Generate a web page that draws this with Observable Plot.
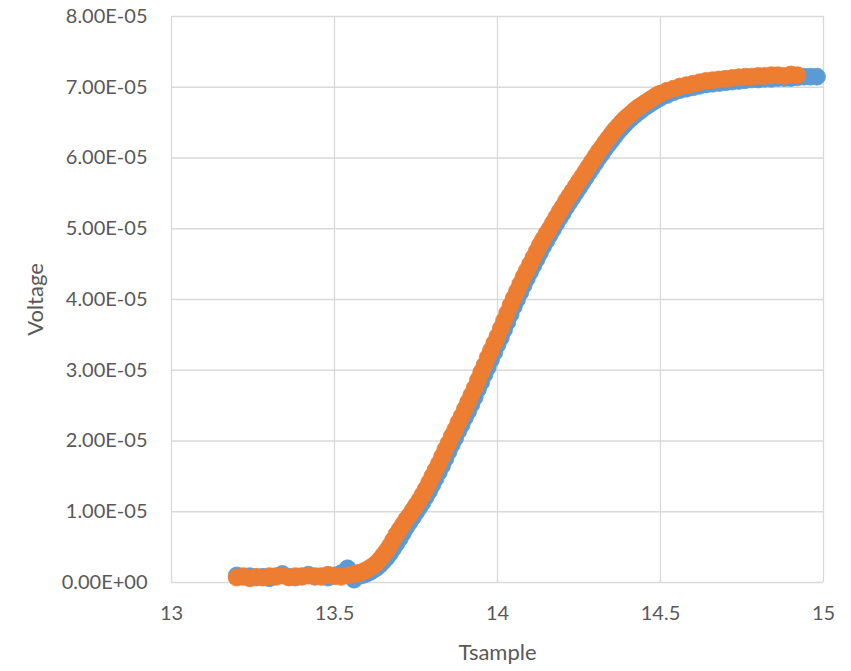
<!DOCTYPE html>
<html>
<head>
<meta charset="utf-8">
<script src="https://cdn.jsdelivr.net/npm/d3@7"></script>
<script src="https://cdn.jsdelivr.net/npm/@observablehq/plot@0.6"></script>
<style>
  html, body { margin: 0; padding: 0; background: #fff; }
  #chart svg { display: block; }
</style>
</head>
<body>
<div id="chart"></div>
<script>
// Tick values
const xTicks = [13, 13.5, 14, 14.5, 15];
const yTicks = [0, 1e-5, 2e-5, 3e-5, 4e-5, 5e-5, 6e-5, 7e-5, 8e-5];

// Series 1 (blue): Tsample and Voltage (Voltage in units of 1e-5)
const blueT = [13.20,13.22,13.24,13.26,13.28,13.30,13.32,13.34,13.36,13.38,13.40,13.42,13.44,13.46,13.48,13.50,13.52,13.54,
  13.56,13.57,13.58,13.59,13.60,13.61,13.62,13.63,13.64,13.65,13.66,13.67,13.68,13.69,13.70,13.71,13.72,13.73,13.74,13.75,
  13.76,13.77,13.78,13.79,13.80,13.81,13.82,13.83,13.84,13.85,13.86,13.87,13.88,13.89,13.90,13.91,13.92,13.93,13.94,13.95,
  13.96,13.97,13.98,13.99,14.00,14.01,14.02,14.03,14.04,14.05,14.06,14.07,14.08,14.09,14.10,14.11,14.12,14.13,14.14,14.15,
  14.16,14.17,14.18,14.19,14.20,14.21,14.22,14.23,14.24,14.25,14.26,14.27,14.28,14.29,14.30,14.31,14.32,14.33,14.34,14.35,
  14.36,14.37,14.38,14.39,14.40,14.41,14.42,14.43,14.44,14.45,14.46,14.47,14.48,14.49,14.50,
  14.52,14.54,14.56,14.58,14.60,14.62,14.64,14.66,14.68,14.70,14.72,14.74,14.76,14.78,14.80,14.82,14.84,14.86,14.88,14.90,
  14.92,14.94,14.96,14.98];
const blueV = [0.10,0.08,0.09,0.07,0.08,0.06,0.09,0.12,0.08,0.07,0.09,0.11,0.08,0.09,0.07,0.10,0.13,0.20,
  0.04,0.09,0.10,0.11,0.13,0.15,0.18,0.21,0.25,0.30,0.35,0.41,0.48,0.55,0.62,0.70,0.78,0.85,0.92,0.99,
  1.06,1.13,1.21,1.29,1.38,1.47,1.56,1.65,1.75,1.85,1.95,2.04,2.14,2.23,2.33,2.42,2.52,2.62,2.73,2.83,
  2.94,3.04,3.15,3.25,3.36,3.46,3.57,3.68,3.79,3.90,4.00,4.10,4.20,4.30,4.39,4.48,4.57,4.66,4.75,4.83,
  4.91,4.99,5.07,5.15,5.22,5.30,5.37,5.44,5.51,5.58,5.65,5.72,5.79,5.86,5.93,6.00,6.06,6.13,6.19,6.25,
  6.31,6.37,6.42,6.47,6.52,6.56,6.60,6.64,6.67,6.71,6.74,6.77,6.80,6.83,6.85,
  6.89,6.93,6.96,6.98,7.00,7.02,7.04,7.05,7.06,7.07,7.08,7.09,7.10,7.11,7.11,7.12,7.12,7.13,7.13,7.13,
  7.14,7.15,7.15,7.15];

// Series 2 (orange)
const orangeT = [13.20,13.22,13.24,13.26,13.28,13.30,13.32,13.34,13.36,13.38,13.40,13.42,13.44,13.46,13.48,13.50,13.52,13.54,
  13.56,13.57,13.58,13.59,13.60,13.61,13.62,13.63,13.64,13.65,13.66,13.67,13.68,13.69,13.70,13.71,13.72,13.73,13.74,13.75,
  13.76,13.77,13.78,13.79,13.80,13.81,13.82,13.83,13.84,13.85,13.86,13.87,13.88,13.89,13.90,13.91,13.92,13.93,13.94,13.95,
  13.96,13.97,13.98,13.99,14.00,14.01,14.02,14.03,14.04,14.05,14.06,14.07,14.08,14.09,14.10,14.11,14.12,14.13,14.14,14.15,
  14.16,14.17,14.18,14.19,14.20,14.21,14.22,14.23,14.24,14.25,14.26,14.27,14.28,14.29,14.30,14.31,14.32,14.33,14.34,14.35,
  14.36,14.37,14.38,14.39,14.40,14.41,14.42,14.43,14.44,14.45,14.46,14.47,14.48,14.49,14.50,
  14.52,14.54,14.56,14.58,14.60,14.62,14.64,14.66,14.68,14.70,14.72,14.74,14.76,14.78,14.80,14.82,14.84,14.86,14.88,14.90,
  14.92];
const orangeV = [0.07,0.09,0.06,0.08,0.07,0.09,0.08,0.10,0.07,0.09,0.08,0.10,0.09,0.08,0.11,0.09,0.08,0.10,
  0.12,0.13,0.14,0.16,0.18,0.21,0.24,0.28,0.33,0.39,0.45,0.52,0.60,0.68,0.75,0.82,0.89,0.95,1.02,1.09,
  1.16,1.24,1.32,1.41,1.50,1.59,1.68,1.78,1.88,1.97,2.07,2.16,2.26,2.35,2.45,2.55,2.65,2.75,2.86,2.97,
  3.07,3.18,3.28,3.38,3.48,3.59,3.70,3.81,3.92,4.02,4.12,4.22,4.32,4.41,4.50,4.59,4.68,4.77,4.85,4.93,
  5.00,5.08,5.16,5.24,5.31,5.39,5.46,5.53,5.60,5.67,5.74,5.81,5.88,5.95,6.02,6.09,6.15,6.22,6.28,6.34,
  6.40,6.45,6.50,6.55,6.59,6.63,6.67,6.71,6.74,6.77,6.80,6.83,6.86,6.89,6.91,
  6.95,6.98,7.01,7.03,7.05,7.07,7.09,7.10,7.11,7.12,7.13,7.14,7.15,7.15,7.16,7.16,7.17,7.17,7.16,7.18,
  7.17];

const unit = 1e-5;
const blue = blueT.map((t, i) => ({t, v: blueV[i] * unit}));
const orange = orangeT.map((t, i) => ({t, v: orangeV[i] * unit}));

function sciFmt(d) {
  if (d === 0) return "0.00E+00";
  const [m, e] = d.toExponential(2).split("e");
  const n = +e;
  return m + "E" + (n < 0 ? "-" : "+") + String(Math.abs(n)).padStart(2, "0");
}

const chart = Plot.plot({
  width: 851,
  height: 671,
  marginLeft: 171,
  marginRight: 28,
  marginTop: 16,
  marginBottom: 89,
  style: {fontFamily: "Lato, 'Open Sans', sans-serif", fontSize: "20px", color: "#595959", background: "#fff"},
  x: {domain: [13, 15]},
  y: {domain: [0, 8e-5]},
  marks: [
    Plot.gridX(xTicks, {stroke: "#d9d9d9", strokeOpacity: 1, strokeWidth: 1.3}),
    Plot.gridY(yTicks, {stroke: "#d9d9d9", strokeOpacity: 1, strokeWidth: 1.3}),
    Plot.dot(blue, {x: "t", y: "v", r: 8.5, fill: "#5b9bd5", stroke: "#5b9bd5", strokeWidth: 0.75}),
    Plot.dot(orange, {x: "t", y: "v", r: 8.5, fill: "#ed7d31", stroke: "#ed7d31", strokeWidth: 0.75}),
    Plot.axisX(xTicks, {tickSize: 0, tickPadding: 23, fill: "#595959", label: null, tickFormat: d => String(d)}),
    Plot.axisY(yTicks, {tickSize: 0, tickPadding: 24, fill: "#595959", tickFormat: sciFmt, label: null}),
    Plot.text(["Tsample"], {frameAnchor: "bottom", dy: 70, lineAnchor: "middle", textAnchor: "middle", fontSize: 22, fill: "#595959"}),
    Plot.text(["Voltage"], {frameAnchor: "left", dx: -136, rotate: -90, lineAnchor: "middle", textAnchor: "middle", fontSize: 22, fill: "#595959"})
  ]
});
document.getElementById("chart").appendChild(chart);
</script>
</body>
</html>
